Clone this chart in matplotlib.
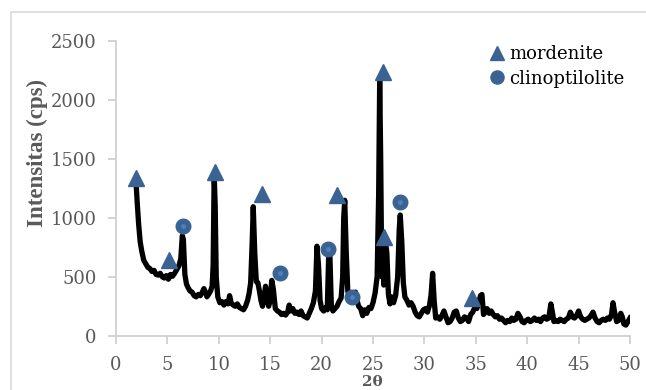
import matplotlib
matplotlib.use("Agg")
from matplotlib import pyplot as plt
from matplotlib.patches import Rectangle

# XRD pattern
two_theta = [1.95, 2.05, 2.2, 2.35, 2.5, 2.7, 2.9, 3.1, 3.3, 3.5, 3.7, 3.9, 4.1, 4.3, 4.5, 4.7, 4.9, 5.1, 5.3, 5.5,
             5.7, 5.9, 6.1, 6.3, 6.45, 6.55, 6.7, 6.85, 7.0, 7.2, 7.4, 7.6, 7.8, 8.0, 8.2, 8.4, 8.55, 8.7, 8.85, 9.0,
             9.2, 9.35, 9.45, 9.55, 9.65, 9.75, 9.9, 10.1, 10.3, 10.5, 10.7, 10.9, 11.05, 11.2, 11.4, 11.6, 11.8, 12.0,
             12.2, 12.4, 12.6, 12.8, 12.95, 13.1, 13.25, 13.35, 13.5, 13.65, 13.8, 13.95, 14.1, 14.25, 14.4, 14.55,
             14.7, 14.85, 15.0, 15.15, 15.3, 15.5, 15.7, 15.9, 16.1, 16.3, 16.5, 16.7, 16.85, 17.0, 17.2, 17.4, 17.6,
             17.8, 18.0, 18.2, 18.4, 18.6, 18.8, 19.0, 19.2, 19.4, 19.55, 19.7, 19.85, 20.0, 20.2, 20.4, 20.55, 20.7,
             20.8, 20.95, 21.1, 21.3, 21.5, 21.7, 21.9, 22.05, 22.15, 22.25, 22.4, 22.55, 22.7, 22.9, 23.1, 23.3,
             23.45, 23.6, 23.8, 24.0, 24.2, 24.4, 24.6, 24.8, 25.0, 25.2, 25.4, 25.55, 25.65, 25.75, 25.85, 25.95,
             26.05, 26.2, 26.35, 26.5, 26.65, 26.8, 27.0, 27.2, 27.4, 27.55, 27.65, 27.8, 27.95, 28.1, 28.3, 28.5,
             28.7, 28.9, 29.1, 29.3, 29.5, 29.7, 29.9, 30.1, 30.3, 30.5, 30.65, 30.8, 30.95, 31.1, 31.3, 31.5, 31.7,
             31.9, 32.1, 32.3, 32.5, 32.7, 32.9, 33.1, 33.3, 33.5, 33.7, 33.9, 34.1, 34.3, 34.5, 34.7, 34.9, 35.1,
             35.3, 35.45, 35.6, 35.75, 35.9, 36.1, 36.3, 36.5, 36.7, 36.9, 37.1, 37.3, 37.5, 37.7, 37.9, 38.1, 38.3,
             38.5, 38.7, 38.9, 39.1, 39.3, 39.5, 39.7, 39.9, 40.1, 40.3, 40.5, 40.7, 40.9, 41.1, 41.3, 41.5, 41.7,
             41.9, 42.1, 42.3, 42.45, 42.6, 42.8, 43.0, 43.2, 43.4, 43.6, 43.8, 44.0, 44.2, 44.4, 44.6, 44.8, 45.0,
             45.2, 45.4, 45.6, 45.8, 46.0, 46.2, 46.4, 46.6, 46.8, 47.0, 47.2, 47.4, 47.6, 47.8, 48.0, 48.2, 48.35,
             48.5, 48.7, 48.9, 49.1, 49.25, 49.4, 49.6, 49.8, 50.0]
intensity = [1300, 1150, 950, 800, 720, 640, 610, 580, 570, 545, 555, 520, 515, 530, 500, 490, 510, 480, 520, 505,
             530, 560, 590, 650, 850, 820, 520, 440, 410, 380, 370, 340, 330, 350, 340, 370, 400, 370, 330, 350,
             380, 420, 600, 1370, 1100, 500, 330, 280, 290, 260, 290, 270, 340, 280, 260, 250, 270, 240,
             230, 220, 250, 300, 360, 450, 800, 1095, 700, 460, 450, 380, 300, 250, 330, 420,
             300, 250, 300, 470, 400, 230, 210, 200, 180, 190, 175, 200, 260, 210, 230, 190, 200,
             180, 210, 170, 160, 150, 190, 230, 280, 380, 760, 600, 300, 230, 210, 240, 220, 720,
             700, 250, 210, 230, 250, 290, 320, 500, 1000, 1150, 700, 380, 330, 310, 360, 370,
             300, 250, 230, 170, 220, 190, 240, 230, 280, 360, 500, 1200, 2170, 1500, 500, 800,
             430, 810, 700, 350, 270, 330, 280, 340, 500, 900, 1025, 800, 450, 330, 300, 260,
             280, 250, 200, 170, 160, 190, 220, 230, 200, 260, 350, 530, 300, 150, 160, 140, 170,
             210, 160, 110, 120, 150, 200, 210, 150, 120, 130, 160, 150, 120, 180, 200, 240, 230,
             280, 340, 350, 180, 200, 230, 190, 210, 180, 160, 170, 140, 150, 130, 110, 130, 120,
             150, 130, 140, 190, 160, 120, 110, 130, 140, 120, 130, 150, 130, 140, 120, 150, 160,
             140, 150, 270, 200, 120, 130, 120, 140, 130, 120, 140, 150, 200, 160, 150, 170, 210,
             160, 140, 130, 140, 150, 170, 200, 150, 120, 110, 130, 140, 130, 150, 140, 180, 280,
             200, 120, 130, 190, 160, 100, 90, 120, 150]

# peak markers
mordenite_x = [1.9, 5.2, 9.65, 14.2, 21.5, 26.0, 26.1, 34.6]
mordenite_y = [1340, 643, 1392, 1200, 1198, 2240, 842, 320]
clino_x = [6.55, 15.95, 20.6, 22.95, 27.6]
clino_y = [934, 530, 733, 326, 1138]

marker_color = '#3a6393'
grey_text = '#595959'
axis_grey = '#d0d0d0'

plt.rcParams['font.family'] = ['DejaVu Serif']

fig = plt.figure(figsize=(6.46, 3.90), dpi=100)
fig.patches.append(Rectangle((11 / 646, -0.1), 1.0, 1 - 12 / 390 + 0.1, transform=fig.transFigure,
                             fill=False, edgecolor='#d9d9d9', linewidth=1.2))
ax = fig.add_axes([116 / 646, 1 - 335.7 / 390, (630 - 116) / 646, (335.7 - 41.3) / 390])

ax.plot(two_theta, intensity, color='black', linewidth=3.8, solid_joinstyle='round', zorder=2)
ax.plot(mordenite_x, mordenite_y, linestyle='none', marker='^', markersize=11,
        color=marker_color, label='mordenite', zorder=3)
ax.plot(clino_x, clino_y, linestyle='none', marker='o', markersize=10.5,
        color=marker_color, label='clinoptilolite', zorder=3)
ax.plot(clino_x, clino_y, linestyle='none', marker='o', markersize=2.5,
        color='#4f7fbf', zorder=4)

ax.set_xlim(0, 50)
ax.set_ylim(0, 2500)
ax.set_xticks(range(0, 51, 5))
ax.set_yticks(range(0, 2501, 500))

for side in ['top', 'right']:
    ax.spines[side].set_visible(False)
for side in ['left', 'bottom']:
    ax.spines[side].set_color(axis_grey)
    ax.spines[side].set_linewidth(1.3)
ax.tick_params(direction='out', length=5.5, width=1.3, color=axis_grey,
               labelsize=13, labelcolor=grey_text)
ax.tick_params(axis='x', pad=9)
ax.tick_params(axis='y', pad=8.5)

ax.set_ylabel('Intensitas (cps)', fontsize=16.5, fontweight='bold', color=grey_text,
              family='Liberation Serif', ha='center', va='center')
ax.yaxis.set_label_coords(-0.152, 0.62)
ax.set_xlabel('2θ', fontsize=11, fontweight='bold', color=grey_text,
              family='DejaVu Serif', ha='center', va='center')
ax.xaxis.set_label_coords(0.498, -0.158)

leg = ax.legend(loc='upper left', bbox_to_anchor=(0.706, 1.011), frameon=False,
                prop={'family': 'DejaVu Serif', 'size': 13}, handletextpad=0.1,
                labelspacing=0.35, borderaxespad=0, handlelength=1.2, markerscale=0.9)

fig.savefig('out.png', dpi=100)
